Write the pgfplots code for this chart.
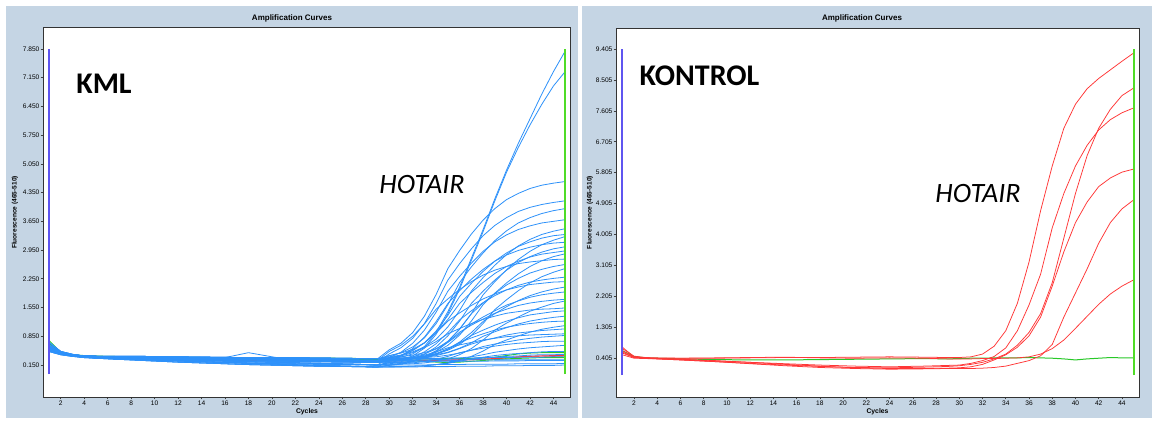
\documentclass[border=0pt]{standalone}
\usepackage{fontspec}
\setmainfont{Liberation Sans}
\newfontfamily\calibri{Carlito}
\usepackage{pgfplots}
\usepackage{pgfplotstable}
\pgfplotsset{compat=1.18}
\definecolor{panelbg}{RGB}{197,213,228}
\definecolor{curveblue}{RGB}{45,145,250}
\definecolor{curvered}{RGB}{255,55,55}
\definecolor{curvegreen}{RGB}{40,200,40}
\definecolor{vblue}{RGB}{95,85,240}
\definecolor{vgreen}{RGB}{80,220,40}

% rows = curves, columns = cycles
\pgfplotstableread{
id 1 2 3 4 6 9 12 15 18 21 24 27 29 30 31 32 33 34 35 36 37 38 39 40 41 42 43 44 45
r1 0.60 0.45 0.39 0.36 0.34 0.32 0.30 0.29 0.28 0.28 0.27 0.27 0.26 0.26 0.26 0.26 0.27 0.27 0.27 0.28 0.28 0.29 0.30 0.32 0.34 0.36 0.37 0.38 0.38
r2 0.58 0.44 0.38 0.36 0.34 0.32 0.29 0.27 0.26 0.26 0.25 0.25 0.25 0.25 0.25 0.26 0.26 0.26 0.27 0.27 0.28 0.29 0.31 0.33 0.35 0.36 0.37 0.36 0.37
g1 0.75 0.46 0.40 0.38 0.36 0.35 0.34 0.33 0.32 0.32 0.32 0.31 0.30 0.30 0.30 0.30 0.30 0.30 0.31 0.31 0.31 0.32 0.34 0.38 0.42 0.44 0.45 0.45 0.45
g2 0.68 0.45 0.39 0.37 0.35 0.34 0.33 0.32 0.31 0.30 0.29 0.28 0.28 0.27 0.26 0.25 0.24 0.22 0.21 0.22 0.24 0.26 0.28 0.30 0.31 0.32 0.33 0.33 0.33
c1 0.62 0.46 0.40 0.37 0.35 0.34 0.33 0.32 0.32 0.31 0.31 0.30 0.30 0.52 0.68 0.94 1.34 1.87 2.50 2.94 3.34 3.68 3.96 4.18 4.33 4.45 4.53 4.58 4.62
c2 0.55 0.44 0.38 0.35 0.33 0.31 0.29 0.27 0.25 0.24 0.23 0.22 0.22 0.42 0.57 0.80 1.16 1.65 2.22 2.62 2.98 3.30 3.55 3.74 3.89 3.99 4.06 4.11 4.15
c3 0.70 0.48 0.41 0.37 0.34 0.32 0.30 0.29 0.28 0.27 0.27 0.26 0.26 0.37 0.45 0.59 0.81 1.16 1.62 2.16 2.54 2.88 3.18 3.42 3.61 3.74 3.84 3.91 3.96
c4 0.50 0.42 0.37 0.34 0.31 0.28 0.25 0.22 0.20 0.18 0.17 0.16 0.15 0.33 0.46 0.68 1.00 1.44 1.95 2.31 2.63 2.92 3.15 3.32 3.45 3.54 3.61 3.65 3.69
c5 0.56 0.44 0.39 0.37 0.36 0.36 0.35 0.34 0.33 0.33 0.32 0.31 0.30 0.35 0.39 0.47 0.59 0.78 1.08 1.48 1.95 2.28 2.58 2.84 3.05 3.21 3.33 3.41 3.47
c6 0.64 0.46 0.40 0.36 0.34 0.32 0.31 0.29 0.28 0.26 0.25 0.23 0.22 0.31 0.38 0.50 0.69 0.98 1.36 1.82 2.14 2.43 2.68 2.88 3.04 3.15 3.24 3.30 3.33
c7 0.60 0.45 0.39 0.36 0.35 0.33 0.32 0.31 0.30 0.29 0.28 0.27 0.26 0.29 0.31 0.35 0.42 0.54 0.73 1.02 1.40 1.86 2.18 2.47 2.72 2.92 3.08 3.19 3.28
c8 0.48 0.40 0.36 0.33 0.30 0.26 0.22 0.19 0.16 0.14 0.12 0.11 0.10 0.26 0.37 0.55 0.83 1.21 1.65 1.96 2.24 2.48 2.68 2.83 2.94 3.02 3.08 3.12 3.14
c9 0.58 0.44 0.38 0.35 0.33 0.30 0.27 0.25 0.23 0.21 0.19 0.17 0.15 0.20 0.23 0.30 0.41 0.59 0.86 1.22 1.65 1.95 2.22 2.46 2.65 2.79 2.90 2.98 3.03
c10 0.62 0.46 0.40 0.37 0.35 0.34 0.33 0.32 0.32 0.31 0.31 0.30 0.30 0.38 0.44 0.53 0.69 0.94 1.26 1.65 1.92 2.16 2.38 2.55 2.68 2.78 2.85 2.89 2.93
c11 0.55 0.44 0.38 0.35 0.33 0.31 0.29 0.27 0.25 0.24 0.23 0.22 0.22 0.25 0.26 0.30 0.36 0.46 0.63 0.88 1.22 1.62 1.90 2.15 2.37 2.55 2.69 2.79 2.86
c12 0.70 0.48 0.41 0.37 0.34 0.32 0.30 0.29 0.28 0.27 0.27 0.26 0.26 0.48 0.63 0.85 1.15 1.51 1.76 1.99 2.18 2.34 2.46 2.55 2.62 2.66 2.69 2.72 2.73
c13 0.52 0.42 0.37 0.34 0.31 0.28 0.25 0.22 0.19 0.16 0.14 0.12 0.10 0.14 0.17 0.23 0.33 0.48 0.71 1.03 1.40 1.66 1.89 2.10 2.26 2.39 2.48 2.55 2.60
c14 0.56 0.44 0.39 0.37 0.36 0.36 0.35 0.34 0.33 0.33 0.32 0.31 0.30 0.30 0.32 0.34 0.37 0.42 0.51 0.65 0.87 1.16 1.50 1.74 1.96 2.15 2.30 2.41 2.50
c15 0.50 0.42 0.37 0.34 0.31 0.28 0.25 0.22 0.20 0.18 0.17 0.16 0.15 0.21 0.26 0.34 0.47 0.67 0.94 1.25 1.47 1.67 1.84 1.98 2.09 2.17 2.22 2.26 2.29
c16 0.64 0.46 0.40 0.36 0.34 0.32 0.31 0.29 0.28 0.26 0.25 0.23 0.22 0.32 0.39 0.51 0.69 0.93 1.22 1.42 1.60 1.76 1.88 1.98 2.05 2.11 2.14 2.17 2.18
c17 0.60 0.45 0.39 0.36 0.35 0.33 0.32 0.31 0.30 0.29 0.28 0.27 0.26 0.28 0.29 0.31 0.36 0.43 0.54 0.71 0.94 1.21 1.40 1.57 1.72 1.84 1.93 2.00 2.05
c18 0.62 0.46 0.40 0.37 0.35 0.34 0.33 0.32 0.32 0.31 0.31 0.30 0.30 0.33 0.35 0.39 0.45 0.55 0.70 0.91 1.15 1.32 1.47 1.61 1.71 1.80 1.86 1.90 1.93
c19 0.48 0.40 0.36 0.33 0.30 0.26 0.22 0.19 0.16 0.14 0.12 0.11 0.10 0.15 0.19 0.25 0.35 0.50 0.71 0.95 1.12 1.27 1.41 1.51 1.60 1.66 1.70 1.73 1.75
c20 0.58 0.44 0.38 0.35 0.33 0.30 0.27 0.25 0.23 0.21 0.19 0.17 0.15 0.15 0.17 0.18 0.20 0.24 0.30 0.40 0.55 0.76 1.00 1.17 1.32 1.46 1.56 1.65 1.71
c21 0.70 0.48 0.41 0.37 0.34 0.32 0.30 0.29 0.28 0.27 0.27 0.26 0.26 0.33 0.37 0.45 0.57 0.72 0.91 1.04 1.16 1.26 1.34 1.41 1.45 1.49 1.51 1.52 1.54
c22 0.55 0.44 0.38 0.35 0.33 0.31 0.29 0.27 0.25 0.24 0.23 0.22 0.22 0.24 0.26 0.29 0.33 0.41 0.53 0.68 0.87 1.00 1.12 1.22 1.30 1.37 1.41 1.45 1.47
c23 0.56 0.44 0.39 0.37 0.36 0.36 0.35 0.34 0.33 0.33 0.32 0.31 0.30 0.31 0.32 0.33 0.36 0.40 0.46 0.56 0.69 0.85 0.96 1.06 1.15 1.22 1.27 1.31 1.34
c24 0.50 0.42 0.37 0.34 0.31 0.28 0.25 0.22 0.20 0.18 0.17 0.16 0.15 0.18 0.21 0.25 0.31 0.41 0.54 0.70 0.81 0.91 1.00 1.07 1.12 1.16 1.19 1.21 1.22
c25 0.52 0.42 0.37 0.34 0.31 0.28 0.25 0.22 0.19 0.16 0.14 0.12 0.10 0.10 0.11 0.12 0.13 0.16 0.20 0.26 0.36 0.49 0.65 0.76 0.86 0.95 1.02 1.07 1.11
c26 0.60 0.45 0.39 0.36 0.35 0.33 0.32 0.31 0.30 0.29 0.28 0.27 0.26 0.27 0.28 0.30 0.33 0.38 0.45 0.55 0.66 0.74 0.81 0.88 0.93 0.96 0.99 1.01 1.03
c27 0.64 0.46 0.40 0.36 0.34 0.32 0.31 0.29 0.28 0.26 0.25 0.23 0.22 0.26 0.28 0.32 0.39 0.47 0.57 0.64 0.70 0.76 0.80 0.84 0.86 0.88 0.89 0.90 0.91
c28 0.62 0.46 0.40 0.37 0.35 0.34 0.33 0.32 0.32 0.31 0.31 0.30 0.30 0.31 0.31 0.32 0.33 0.35 0.39 0.44 0.51 0.60 0.66 0.71 0.76 0.80 0.83 0.85 0.87
c29 0.58 0.44 0.38 0.35 0.33 0.30 0.27 0.25 0.23 0.21 0.19 0.17 0.15 0.17 0.18 0.20 0.24 0.29 0.36 0.45 0.51 0.56 0.61 0.65 0.68 0.70 0.72 0.73 0.73
c30 0.70 0.48 0.41 0.37 0.34 0.32 0.30 0.29 0.28 0.27 0.27 0.26 0.26 0.26 0.26 0.27 0.27 0.28 0.29 0.32 0.35 0.40 0.46 0.50 0.54 0.57 0.59 0.61 0.63
c31 0.48 0.40 0.36 0.33 0.30 0.26 0.22 0.19 0.16 0.14 0.12 0.11 0.10 0.11 0.11 0.12 0.13 0.16 0.19 0.24 0.30 0.34 0.38 0.41 0.43 0.45 0.47 0.48 0.48
c32 0.55 0.44 0.38 0.35 0.33 0.31 0.29 0.27 0.25 0.24 0.23 0.22 0.22 0.22 0.22 0.23 0.23 0.24 0.25 0.27 0.29 0.32 0.34 0.36 0.37 0.39 0.40 0.40 0.41
t1 0.56 0.44 0.39 0.37 0.36 0.36 0.35 0.34 0.33 0.33 0.32 0.31 0.30 0.31 0.34 0.42 0.60 0.95 1.45 2.05 2.75 3.45 4.20 4.90 5.55 6.15 6.75 7.30 7.80
t2 0.64 0.46 0.40 0.36 0.34 0.32 0.31 0.29 0.28 0.26 0.25 0.23 0.22 0.24 0.28 0.37 0.56 0.90 1.40 2.00 2.70 3.40 4.15 4.85 5.45 6.00 6.50 6.95 7.30
f1 0.62 0.46 0.40 0.37 0.35 0.34 0.33 0.32 0.32 0.31 0.31 0.30 0.30 0.30 0.30 0.31 0.31 0.31 0.32 0.32 0.32 0.33 0.33 0.33 0.34 0.34 0.34 0.35 0.35
f2 0.58 0.44 0.38 0.35 0.33 0.30 0.27 0.25 0.23 0.21 0.19 0.17 0.15 0.15 0.15 0.15 0.15 0.16 0.16 0.16 0.17 0.17 0.17 0.17 0.18 0.18 0.18 0.18 0.19
f3 0.52 0.42 0.37 0.34 0.31 0.28 0.25 0.22 0.19 0.16 0.14 0.12 0.10 0.10 0.10 0.10 0.11 0.11 0.11 0.12 0.12 0.12 0.13 0.13 0.13 0.14 0.14 0.14 0.15
f4 0.60 0.45 0.39 0.36 0.35 0.33 0.32 0.31 0.30 0.29 0.28 0.27 0.26 0.26 0.26 0.26 0.27 0.27 0.27 0.27 0.28 0.28 0.28 0.28 0.28 0.28 0.28 0.28 0.28
f5 0.55 0.44 0.38 0.35 0.33 0.31 0.29 0.27 0.45 0.30 0.23 0.22 0.22 0.22 0.22 0.22 0.23 0.23 0.23 0.24 0.24 0.24 0.25 0.25 0.25 0.26 0.26 0.26 0.26
}\rawL
\pgfplotstabletranspose[colnames from=id]{\tabL}{\rawL}

\pgfplotstableread{
id 1 2 3 4 6 9 12 15 18 21 24 27 29 30 31 32 33 34 35 36 37 38 39 40 41 42 43 44 45
G 0.62 0.45 0.41 0.40 0.38 0.36 0.35 0.35 0.36 0.37 0.38 0.39 0.38 0.39 0.40 0.40 0.41 0.41 0.41 0.42 0.41 0.40 0.38 0.35 0.38 0.40 0.42 0.41 0.41
A 0.68 0.46 0.42 0.41 0.40 0.40 0.41 0.42 0.42 0.43 0.44 0.43 0.42 0.42 0.44 0.52 0.75 1.20 2.00 3.20 4.70 6.00 7.10 7.80 8.25 8.55 8.80 9.05 9.29
B 0.72 0.44 0.40 0.38 0.35 0.30 0.25 0.20 0.16 0.13 0.12 0.14 0.16 0.18 0.22 0.28 0.38 0.52 0.78 1.15 1.70 2.60 3.90 5.20 6.30 7.10 7.65 8.05 8.27
C 0.58 0.42 0.40 0.39 0.36 0.32 0.28 0.24 0.20 0.17 0.15 0.17 0.19 0.20 0.25 0.33 0.45 0.70 1.20 1.95 2.85 4.20 5.20 6.00 6.60 7.05 7.35 7.55 7.69
D 0.62 0.43 0.40 0.39 0.37 0.33 0.28 0.22 0.17 0.12 0.10 0.10 0.11 0.12 0.15 0.22 0.35 0.50 0.72 1.05 1.60 2.50 3.50 4.35 4.95 5.40 5.65 5.82 5.91
E 0.50 0.40 0.39 0.38 0.35 0.30 0.24 0.18 0.13 0.10 0.08 0.09 0.10 0.10 0.10 0.11 0.13 0.17 0.25 0.33 0.47 0.80 1.60 2.30 3.00 3.75 4.35 4.75 5.01
F 0.55 0.42 0.41 0.40 0.40 0.41 0.42 0.43 0.41 0.40 0.41 0.40 0.38 0.38 0.38 0.39 0.39 0.40 0.41 0.44 0.52 0.68 0.93 1.27 1.62 1.97 2.27 2.50 2.68
}\rawR
\pgfplotstabletranspose[colnames from=id]{\tabR}{\rawR}

\pgfplotsset{qpcr/.style={
  scale only axis, anchor=south west,
  axis background/.style={fill=white},
  axis line style={draw=black!80, line width=0.5pt},
  tick align=outside, major tick length=1.2pt,
  tick style={draw=black!75, line width=0.3pt},
  tick pos=left,
  xtick={2,4,...,44},
  tick label style={font=\fontsize{3.3}{4}\selectfont, inner sep=0.4pt},
  /pgf/number format/assume math mode=true,
  xlabel={Cycles},
  xlabel style={font=\bfseries\fontsize{3.4}{4}\selectfont, at={(axis description cs:0.5,0)}, anchor=center, yshift=-7.5pt},
  ylabel={Fluorescence (465-510)},
  ylabel style={font=\bfseries\fontsize{3.3}{4}\selectfont, anchor=center},
  every axis plot/.append style={line join=round},
}}

\begin{document}
\begin{tikzpicture}
\path[use as bounding box, fill=white] (0,0) rectangle (577.5pt,211.5pt);
\fill[panelbg] (3pt,2.5pt) rectangle (289pt,208.5pt);
\fill[panelbg] (291pt,2.5pt) rectangle (576pt,208.5pt);
\node[font=\bfseries\fontsize{4}{5}\selectfont] at (146pt,202.5pt) {Amplification Curves};
\node[font=\bfseries\fontsize{4}{5}\selectfont] at (431pt,202.5pt) {Amplification Curves};

\begin{axis}[qpcr, at={(21.5pt,13pt)}, width=264pt, height=184.5pt,
  xmin=0.49, xmax=45.49, ymin=-0.63, ymax=8.36,
  ytick={0.15,0.85,1.55,2.25,2.95,3.65,4.35,5.05,5.75,6.45,7.15,7.85},
  yticklabels={0.150,0.850,1.550,2.250,2.950,3.650,4.350,5.050,5.750,6.450,7.150,7.850},
  ylabel style={at={(axis description cs:-0.053,0.5)}}]
\pgfplotsinvokeforeach{r1,r2}{\addplot[curvered, line width=0.45pt] table[x=colnames,y=#1]{\tabL};}
\pgfplotsinvokeforeach{g1,g2}{\addplot[curvegreen, line width=0.45pt] table[x=colnames,y=#1]{\tabL};}
\pgfplotsinvokeforeach{f1,f2,f3,f4,f5,c32,c31,c30,c29,c28,c27,c26,c25,c24,c23,c22,c21,c20,c19,c18,c17,c16,c15,c14,c13,c12,c11,c10,c9,c8,c7,c6,c5,c4,c3,c2,c1,t2,t1}{\addplot[curveblue, line width=0.4pt] table[x=colnames,y=#1]{\tabL};}
\addplot[vblue, line width=0.9pt] coordinates {(1,-0.07) (1,7.85)};
\addplot[vgreen, line width=0.9pt] coordinates {(45,-0.07) (45,7.85)};
\end{axis}

\begin{axis}[qpcr, at={(308pt,13pt)}, width=261.5pt, height=184.5pt,
  xmin=0.45, xmax=45.47, ymin=-0.73, ymax=10.02,
  ytick={0.405,1.305,2.205,3.105,4.005,4.905,5.805,6.705,7.605,8.505,9.405},
  yticklabels={0.405,1.305,2.205,3.105,4.005,4.905,5.805,6.705,7.605,8.505,9.405},
  ylabel style={at={(axis description cs:-0.05,0.5)}}]
\addplot[curvegreen, line width=0.5pt] table[x=colnames,y=G]{\tabR};
\pgfplotsinvokeforeach{F,E,D,C,B,A}{\addplot[curvered, line width=0.38pt] table[x=colnames,y=#1]{\tabR};}
\addplot[vblue, line width=0.9pt] coordinates {(1,-0.09) (1,9.405)};
\addplot[vgreen, line width=1pt] coordinates {(45,-0.09) (45,9.405)};
\end{axis}

\node[font=\calibri\bfseries\fontsize{15}{18}\selectfont] at (52pt,169.5pt) {KML};
\node[font=\calibri\bfseries\fontsize{15}{18}\selectfont] at (349.75pt,173.75pt) {KONTROL};
\node[font=\calibri\itshape\fontsize{14}{17}\selectfont] at (211pt,119pt) {HOTAIR};
\node[font=\calibri\itshape\fontsize{14}{17}\selectfont] at (489pt,114.5pt) {HOTAIR};
\end{tikzpicture}
\end{document}
